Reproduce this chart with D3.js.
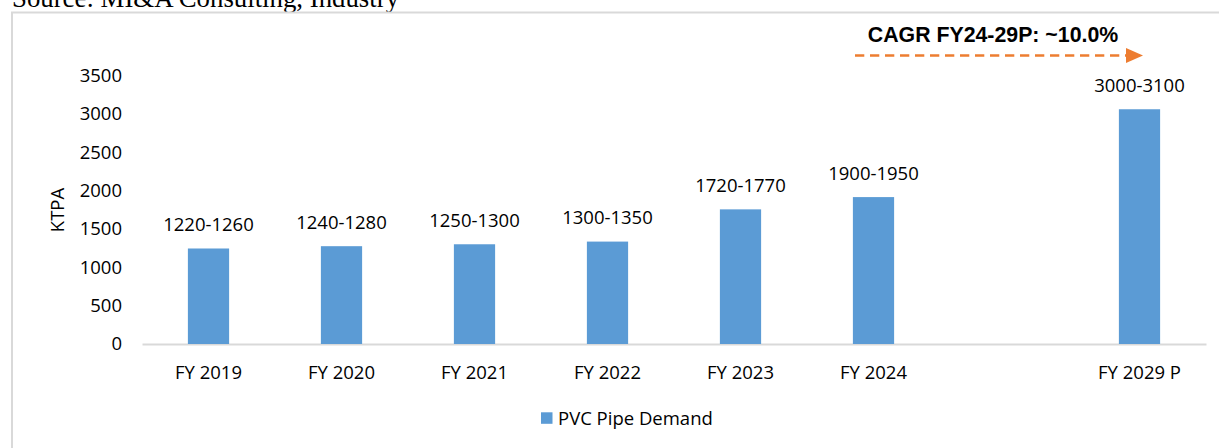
<!DOCTYPE html>
<html>
<head>
<meta charset="utf-8">
<script src="https://cdn.jsdelivr.net/npm/d3@7"></script>
<style>
  html, body { margin: 0; padding: 0; background: #fff; overflow: hidden; }
  svg { display: block; }
</style>
</head>
<body>
<div id="chart"></div>
<script>
// categories (the blank one leaves the gap before the projection)
const categories = ["FY 2019", "FY 2020", "FY 2021", "FY 2022", "FY 2023", "FY 2024", " ", "FY 2029 P"];
const years = ["FY 2019", "FY 2020", "FY 2021", "FY 2022", "FY 2023", "FY 2024", "FY 2029 P"];
const demand = [1245, 1275, 1300, 1335, 1755, 1915, 3060];
const rangeLabels = ["1220-1260", "1240-1280", "1250-1300", "1300-1350", "1720-1770", "1900-1950", "3000-3100"];
const yTicks = [0, 500, 1000, 1500, 2000, 2500, 3000, 3500];

const W = 1219, H = 448;
const blue = "#5B9BD5", orange = "#ED7D31", grid = "#d9d9d9";
const font = "'Open Sans', 'Noto Sans', sans-serif";

const svg = d3.select("#chart").append("svg")
  .attr("width", W)
  .attr("height", H);

// source line, cut off at the top like the screenshot
svg.append("text")
  .attr("x", 12)
  .attr("y", 7)
  .attr("font-family", "'Liberation Serif', 'Times New Roman', serif")
  .attr("font-size", 26.8)
  .attr("fill", "#000")
  .text("Source: MI&A Consulting, Industry");

// chart frame
svg.append("rect")
  .attr("x", 12)
  .attr("y", 12.5)
  .attr("width", W + 20)
  .attr("height", H + 20)
  .attr("fill", "none")
  .attr("stroke", grid)
  .attr("stroke-width", 2);

const x = d3.scaleBand()
  .domain(categories)
  .range([142, 1206])
  .paddingInner(0.69)
  .paddingOuter(0.345);

const y = d3.scaleLinear()
  .domain([0, 3500])
  .range([344, 75.5]);

// y axis labels only
const yAxis = svg.append("g")
  .attr("transform", "translate(142,0)")
  .call(d3.axisLeft(y).tickValues(yTicks).tickFormat(d3.format("d")).tickSize(0).tickPadding(20));
yAxis.select(".domain").remove();
yAxis.selectAll("text")
  .attr("font-family", font)
  .attr("font-size", 18.5)
  .attr("fill", "#000");

// x axis line + category labels
const xAxis = svg.append("g")
  .attr("transform", "translate(0,344)")
  .call(d3.axisBottom(x).tickSize(0).tickPadding(21.5));
xAxis.select(".domain")
  .attr("stroke", grid)
  .attr("stroke-width", 2);
xAxis.selectAll("text")
  .attr("font-family", font)
  .attr("font-size", 18.5)
  .attr("fill", "#000");

// axis title
svg.append("text")
  .attr("transform", "translate(64,210) rotate(-90)")
  .attr("text-anchor", "middle")
  .attr("font-family", font)
  .attr("font-size", 18.5)
  .attr("fill", "#000")
  .text("KTPA");

// bars
svg.append("g").selectAll("rect")
  .data(years)
  .join("rect")
  .attr("x", d => x(d))
  .attr("y", (d, i) => y(demand[i]))
  .attr("width", x.bandwidth())
  .attr("height", (d, i) => y(0) - y(demand[i]))
  .attr("fill", blue);

// range labels above bars
svg.append("g").selectAll("text")
  .data(years)
  .join("text")
  .attr("x", d => x(d) + x.bandwidth() / 2)
  .attr("y", (d, i) => y(demand[i]) - 17.5)
  .attr("text-anchor", "middle")
  .attr("font-family", font)
  .attr("font-size", 18.5)
  .attr("fill", "#000")
  .text((d, i) => rangeLabels[i]);

// CAGR note + dashed arrow
svg.append("text")
  .attr("x", 993)
  .attr("y", 42)
  .attr("text-anchor", "middle")
  .attr("font-family", "'Liberation Sans', Arial, sans-serif")
  .attr("font-weight", "bold")
  .attr("font-size", 21.3)
  .attr("fill", "#000")
  .text("CAGR FY24-29P: ~10.0%");

svg.append("line")
  .attr("x1", 855)
  .attr("y1", 55.5)
  .attr("x2", 1128)
  .attr("y2", 55.5)
  .attr("stroke", orange)
  .attr("stroke-width", 2.7)
  .attr("stroke-dasharray", "9.3,5.7");

svg.append("path")
  .attr("d", "M1126,48 L1143,55.5 L1126,63 Z")
  .attr("fill", orange);

// legend
svg.append("rect")
  .attr("x", 541)
  .attr("y", 412.3)
  .attr("width", 11.5)
  .attr("height", 11.5)
  .attr("fill", blue);

svg.append("text")
  .attr("x", 558)
  .attr("y", 424.5)
  .attr("font-family", font)
  .attr("font-size", 18.5)
  .attr("fill", "#000")
  .text("PVC Pipe Demand");
</script>
</body>
</html>
